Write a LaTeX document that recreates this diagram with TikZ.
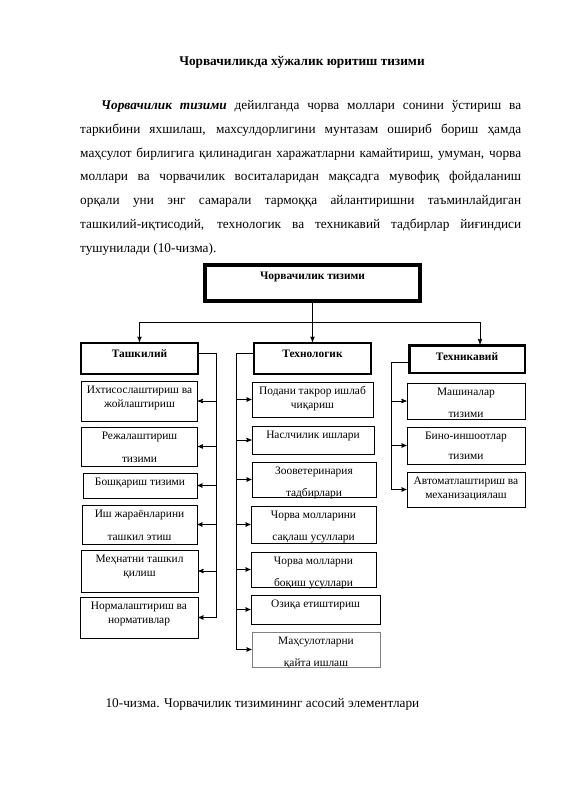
\documentclass[tikz,border=0pt]{standalone}
\usepackage{fontspec}
\setmainfont{Liberation Serif}
\usetikzlibrary{arrows}
\tikzset{
  item/.style 2 args={draw, line width=0.9pt, minimum width=#1, minimum height=#2, inner sep=0pt},
  head/.style 2 args={draw, line width=2.5pt, minimum width=#1, minimum height=#2, inner sep=0pt},
  txt/.style={anchor=north, align=center, inner sep=1.5pt, yshift=-3.5pt, font=\fontsize{11.4}{14}\selectfont},
  bold/.style={txt, yshift=-3pt, font=\fontsize{11.4}{14}\selectfont\bfseries},
  link/.style={line width=0.9pt}
}
\begin{document}
\begin{tikzpicture}[x=1pt, y=-1pt, >=stealth']
\useasboundingbox (0,0) rectangle (565,800);

% Title and text above the scheme
\node[anchor=base, font=\fontsize{13.3}{16}\selectfont\bfseries] (title) at (302,66) {Чорвачиликда хўжалик юритиш тизими};
\node[anchor=north west, inner sep=0pt, text width=441pt, align=justify,
      font=\fontsize{13.3}{23.7}\selectfont] (para) at (80,100.5) {\hspace*{21pt}\textbf{\textit{Чорвачилик тизими}} дейилганда чорва моллари сонини ўстириш ва\linebreak
таркибини яхшилаш, махсулдорлигини мунтазам ошириб бориш ҳамда\linebreak
маҳсулот бирлигига қилинадиган харажатларни камайтириш, умуман, чорва\linebreak
моллари ва чорвачилик воситаларидан мақсадга мувофиқ фойдаланиш\linebreak
орқали уни энг самарали тармоққа айлантиришни таъминлайдиган\linebreak
ташкилий-иқтисодий, технологик ва техникавий тадбирлар йиғиндиси\linebreak
тушунилади (10-чизма).};

% Main boxes
\node[head={215}{36}, line width=3.5pt, label={[bold, yshift=-1pt]north:Чорвачилик тизими}] (top) at (312.5,283) {};
\node[head={117}{31}, label={[bold]north:Ташкилий}] (tash) at (139.5,358.5) {};
\node[head={117}{31}, label={[bold]north:Технологик}] (tex) at (312.5,358.5) {};
\node[head={115.5}{27.5}, label={[bold]north:Техникавий}] (tekh) at (467,359) {};

% Ташкилий
\node[item={116}{40}, label={[txt]north:{Ихтисослаштириш ва\\жойлаштириш}}] (tk1) at (139.5,401) {};
\node[item={116}{39}, label={[txt]north:{Режалаштириш\\[9pt]тизими}}] (tk2) at (139.5,446.5) {};
\node[item={114}{25}, label={[txt]north:{Бошқариш тизими}}] (tk3) at (140,485.5) {};
\node[item={115}{39}, label={[txt]north:{Иш жараёнларини\\[9pt]ташкил этиш}}] (tk4) at (139.5,524.5) {};
\node[item={117}{42}, label={[txt]north:{Меҳнатни ташкил\\қилиш}}] (tk5) at (139.5,571) {};
\node[item={118}{41}, label={[txt]north:{Нормалаштириш ва\\нормативлар}}] (tk6) at (139,617.5) {};

% Технологик
\node[item={121}{35}, label={[txt]north:{Подани такрор ишлаб\\чиқариш}}] (te1) at (312.5,399.5) {};
\node[item={122}{28}, label={[txt]north:{Наслчилик ишлари}}] (te2) at (313,440) {};
\node[item={124}{35}, label={[txt]north:{Зооветеринария\\[8pt]тадбирлари}}] (te3) at (314,479.5) {};
\node[item={125}{37}, label={[txt]north:{Чорва молларини\\[8pt]сақлаш усуллари}}] (te4) at (313.5,524.5) {};
\node[item={125}{35}, label={[txt]north:{Чорва молларни\\[8pt]боқиш усуллари}}] (te5) at (313.5,569.5) {};
\node[item={129}{29}, label={[txt]north:{Озиқа етиштириш}}] (te6) at (315.5,609.5) {};
\node[item={128}{35}, draw=gray, label={[txt]north:{Маҳсулотларни\\[8pt]қайта ишлаш}}] (te7) at (316,649.5) {};

% Техникавий
\node[item={118}{36}, label={[txt]north:{Машиналар\\[8pt]тизими}}] (th1) at (466,401) {};
\node[item={118}{37}, label={[txt]north:{Бино-иншоотлар\\[6pt]тизими}}] (th2) at (466,445.5) {};
\node[item={118}{35}, label={[txt]north:{Автоматлаштириш ва\\механизациялаш}}] (th3) at (466,489.5) {};

% Connectors from the main box
\coordinate (busL) at (139.5,322);
\coordinate (busR) at (480,322);
\draw[link, ->] (top.south) -- (tex.north);
\draw[link] (busL) -- (busR);
\draw[link, ->] (busL) -- (tash.north);
\draw[link, ->] (busR) -- (busR |- tekh.north);

% Side buses
\coordinate (tkbus) at (216,353);
\coordinate (tebus) at (236,353);
\coordinate (thbus) at (391,362);
\draw[link] (tash.east |- tkbus) -- (tkbus) -- (tkbus |- tk6.east);
\foreach \i in {1,...,6}
  \draw[link, ->] (tkbus |- tk\i.east) -- (tk\i.east);
\draw[link] (tex.west |- tebus) -- (tebus) -- (tebus |- te7.west);
\foreach \i in {1,...,7}
  \draw[link, ->] (tebus |- te\i.west) -- (te\i.west);
\draw[link] (tekh.west |- thbus) -- (thbus) -- (thbus |- th3.west);
\foreach \i in {1,...,3}
  \draw[link, ->] (thbus |- th\i.west) -- (th\i.west);

% Caption
\node[anchor=base west, font=\fontsize{13.3}{16}\selectfont] (caption) at (102,707) {10-чизма. Чорвачилик тизимининг асосий элементлари};
\end{tikzpicture}
\end{document}
